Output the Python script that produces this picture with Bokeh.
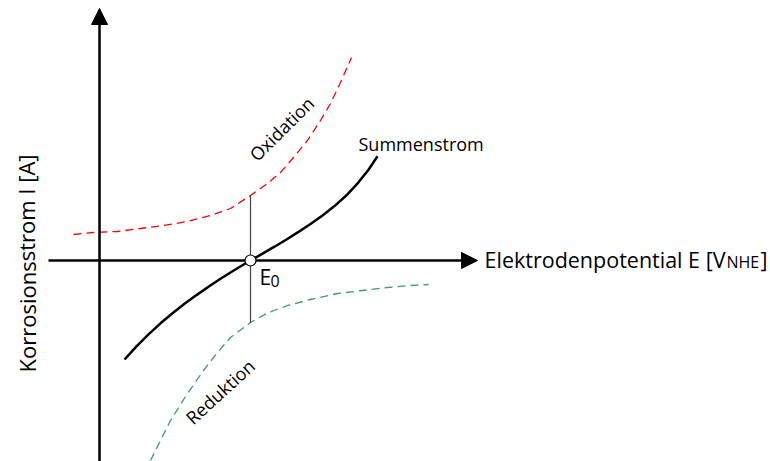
from bokeh.plotting import figure
from bokeh.models import Arrow, NormalHead, Range1d
from bokeh.core.properties import value
from bokeh.embed import file_html
from bokeh.resources import INLINE

# ---- data (schematic units: E horizontal, I vertical; origin at axis crossing) ----
oxid_E = [-0.26, -0.06, 0.18, 0.41, 0.64, 0.88, 1.11, 1.31, 1.51, 1.68, 1.81, 1.94, 2.08, 2.21, 2.31, 2.41, 2.52]
oxid_I = [0.26, 0.28, 0.29, 0.32, 0.35, 0.39, 0.45, 0.52, 0.65, 0.77, 0.88, 1.03, 1.20, 1.40, 1.57, 1.78, 2.03]

red_E = [0.51, 0.61, 0.71, 0.86, 1.04, 1.18, 1.31, 1.51, 1.69, 1.88, 2.11, 2.38, 2.63, 2.88, 3.11, 3.29]
red_I = [-2.00, -1.80, -1.60, -1.36, -1.10, -0.92, -0.77, -0.62, -0.52, -0.45, -0.39, -0.33, -0.30, -0.27, -0.25, -0.24]

sum_E = [0.25, 0.37, 0.49, 0.61, 0.73, 0.85, 0.97, 1.09, 1.21, 1.33, 1.45, 1.51,
         1.63, 1.75, 1.87, 1.99, 2.11, 2.23, 2.35, 2.47, 2.59, 2.69, 2.78]
sum_I = [-0.99, -0.858, -0.738, -0.628, -0.527, -0.433, -0.346, -0.263, -0.183, -0.108, -0.035, 0.0,
         0.068, 0.138, 0.21, 0.286, 0.365, 0.45, 0.544, 0.652, 0.782, 0.907, 1.042]

E0 = 1.51
E0_top = 0.65     # oxidation current at E0
E0_bottom = -0.62 # reduction current at E0

x_label = "Elektrodenpotential E [V"
x_label_sub = "NHE"
y_label = "Korrosionsstrom I [A]"
curve_labels = ["Oxidation", "Reduktion", "Summenstrom"]

FONT = value("Open Sans")

p = figure(width=770, height=461, output_backend="svg", toolbar_location=None,
           x_axis_type=None, y_axis_type=None, min_border=0,
           x_range=Range1d(-0.99, 6.71), y_range=Range1d(-2.01, 2.60))
p.outline_line_color = None
p.background_fill_color = "white"
p.border_fill_color = "white"

# curves
p.line(oxid_E, oxid_I, line_color="#ff0000", line_width=1.3, line_dash="8 5")
p.line(red_E, red_I, line_color="#3c9c6c", line_width=1.3, line_dash="8 5")
p.line(sum_E, sum_I, line_color="black", line_width=2.5)

# vertical marker at E0
p.segment(x0=[E0], y0=[E0_bottom], x1=[E0], y1=[E0_top], line_color="#444444", line_width=1.2)

# axes as arrows
p.add_layout(Arrow(end=NormalHead(size=16, fill_color="black", line_color="black", line_width=1),
                   x_start=-0.51, y_start=0, x_end=3.78, y_end=0,
                   line_color="black", line_width=2.5))
p.add_layout(Arrow(end=NormalHead(size=16, fill_color="black", line_color="black", line_width=1),
                   x_start=0, y_start=-2.05, x_end=0, y_end=2.52,
                   line_color="black", line_width=2.5))

# E0 point (on top of axis)
p.scatter([E0], [0], size=11, marker="circle", fill_color="white", line_color="black",
          line_width=1.2, level="overlay")

# texts
p.text(x=[6.26], y=[0.01], text=[x_label], text_font=FONT, text_font_size="21.5px",
       text_align="right", text_baseline="alphabetic", text_color="black")
p.text(x=[6.27], y=[-0.01], text=[x_label_sub], text_font=FONT, text_font_size="16px",
       text_align="left", text_baseline="alphabetic", text_color="black")
p.text(x=[6.61], y=[0.01], text=["]"], text_font=FONT, text_font_size="21.5px",
       text_align="left", text_baseline="alphabetic", text_color="black")

p.text(x=[-0.73], y=[-0.03], text=[y_label], text_font=FONT, text_font_size="22px",
       text_align="center", text_baseline="alphabetic", angle=1.5708, text_color="black")

p.text(x=[2.59], y=[1.17], text=[curve_labels[2]], text_font=FONT, text_font_size="18px",
       text_align="left", text_baseline="alphabetic", text_color="black")
p.text(x=[1.53], y=[1.03], text=[curve_labels[0]], text_font=FONT, text_font_size="18px",
       text_align="left", text_baseline="alphabetic", angle=0.78, text_color="black")
p.text(x=[0.89], y=[-1.60], text=[curve_labels[1]], text_font=FONT, text_font_size="18px",
       text_align="left", text_baseline="alphabetic", angle=0.74, text_color="black")

p.text(x=[1.60], y=[-0.16], text=["E"], text_font=FONT, text_font_size="21px",
       text_align="left", text_baseline="alphabetic", text_color="black")
p.text(x=[1.71], y=[-0.20], text=["0"], text_font=FONT, text_font_size="16px",
       text_align="left", text_baseline="alphabetic", text_color="black")

open("out.html", "w").write(file_html(p, INLINE))
